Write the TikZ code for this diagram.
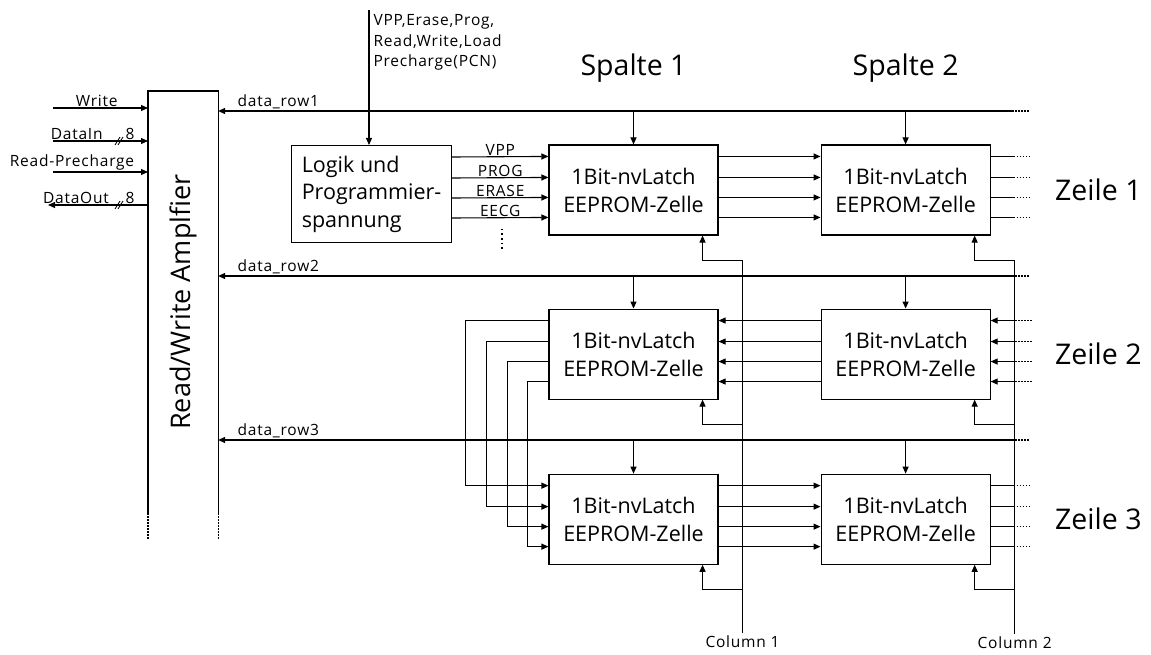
\documentclass[tikz,border=0pt]{standalone}
\usepackage{fontspec}
\setmainfont{Open Sans}
\newfontfamily\sigfont[LetterSpace=5]{Open Sans}
\usetikzlibrary{positioning, arrows.meta, calc}

\begin{document}
\begin{tikzpicture}[
    x=1pt, y=-1pt,
    >={Triangle[length=7pt,width=6pt]},
    line width=1.1pt,
    cell/.style ={draw, minimum width=169pt, minimum height=90pt, align=center, inner sep=0pt,
                  font=\fontsize{21.5}{28}\selectfont},
    logic/.style={draw, minimum width=160pt, minimum height=97pt, align=left, inner sep=0pt,
                  font=\fontsize{21.5}{27.5}\selectfont},
    sig/.style  ={font=\sigfont\fontsize{15.5}{20.5}\selectfont, inner sep=1pt},
    big/.style  ={font=\fontsize{28.5}{32}\selectfont, inner sep=0pt},
    arr/.style  ={->},
    cont/.style ={dash pattern=on 1.5pt off 1.5pt},
]
\useasboundingbox (0,0) rectangle (1151,655);

% ---- Cell matrix ----
\node[cell] (c11) at (633.5,190) {1Bit-nvLatch\\EEPROM-Zelle};
\node[cell, right=102pt of c11] (c12) {1Bit-nvLatch\\EEPROM-Zelle};
\node[cell, below=73pt of c11]  (c21) {1Bit-nvLatch\\EEPROM-Zelle};
\node[cell, right=102pt of c21] (c22) {1Bit-nvLatch\\EEPROM-Zelle};
\node[cell, below=74pt of c21]  (c31) {1Bit-nvLatch\\EEPROM-Zelle};
\node[cell, right=102pt of c31] (c32) {1Bit-nvLatch\\EEPROM-Zelle};

\node[big, above=62pt of c11] (sp1) {Spalte 1};
\node[big, above=62pt of c12] (sp2) {Spalte 2};
\node[big, right=64pt of c12] (ze1) {Zeile 1};
\node[big, right=64pt of c22] (ze2) {Zeile 2};
\node[big, right=64pt of c32] (ze3) {Zeile 3};

% ---- Logic block ----
\node[logic, anchor=north west] (logik) at (291,145) {Logik und\\Programmier-\\spannung};
\coordinate (ctl) at (369,10);
\draw[arr] (ctl) -- (ctl |- logik.north);
\node[sig, anchor=north west, align=left] (ctltxt) at ([xshift=3pt,yshift=-3pt]ctl) {VPP,Erase,Prog,\\Read,Write,Load\\Precharge(PCN)};

% ---- Read/Write amplifier ----
\node[minimum width=69pt, minimum height=421pt, anchor=north west, inner sep=0pt] (amp) at (148,91) {};
\draw (amp.south west) -- (amp.north west) -- (amp.north east) -- (amp.south east);
\draw[cont] (amp.south west) -- ++(0,26);
\draw[cont] (amp.south east) -- ++(0,26);
\node[big, rotate=90, font=\fontsize{27}{30}\selectfont] (amplbl) at (amp.center) {Read/Write Amplfier};

% ---- External amplifier signals ----
\coordinate (inW) at (53,108);
\coordinate (inD) at (53,141);
\coordinate (inR) at (53,172);
\coordinate (outD) at (48,205);
\draw[arr] (inW) -- (inW -| amp.west) node[sig, pos=.46, above] {Write};
\draw[arr] (inD) -- (inD -| amp.west) node[sig, pos=.25, above] {DataIn};
\draw[arr] (inR) -- (inR -| amp.west) node[sig, pos=.2, above] {Read-Precharge};
\draw[arr] (outD -| amp.west) -- (outD) node[sig, pos=.72, above] {DataOut};
\foreach \b in {inD, outD} {
  \coordinate (bus) at (\b -| 120,0);
  \draw[line width=0.8pt] ([xshift=-5pt,yshift=-4pt]bus) -- ++(5,-8);
  \draw[line width=0.8pt] ([xshift=-2pt,yshift=-4pt]bus) -- ++(5,-8);
  \node[sig, anchor=south west, inner sep=0pt] at ([xshift=5pt,yshift=1pt]bus) {8};
}

% ---- Logic outputs and row 1 ----
\foreach \dy/\s in {12/VPP, 33/PROG, 53/ERASE, 73/EECG} {
  \draw[arr] ([yshift=-\dy pt]logik.north east) -- ([yshift=-\dy pt]c11.north west)
    node[sig, midway, above, inner sep=0.5pt] {\s};
  \draw[arr] ([yshift=-\dy pt]c11.north east) -- ([yshift=-\dy pt]c12.north west);
  \draw ([yshift=-\dy pt]c12.north east) -- ([xshift=23pt,yshift=-\dy pt]c12.north east);
  \draw[cont] ([xshift=23pt,yshift=-\dy pt]c12.north east) -- ([xshift=41pt,yshift=-\dy pt]c12.north east);
}
\coordinate (vdots) at (502,229);
\draw[dash pattern=on 1.5pt off 3pt] (vdots) -- ++(0,21);

% ---- Row 2 (right to left) and feed into row 3 ----
\foreach \dy/\dx in {12/83, 33/62, 53/41, 73/21} {
  \draw[cont] ([xshift=41pt,yshift=-\dy pt]c22.north east) -- ([xshift=23pt,yshift=-\dy pt]c22.north east);
  \draw[arr] ([xshift=23pt,yshift=-\dy pt]c22.north east) -- ([yshift=-\dy pt]c22.north east);
  \draw[arr] ([yshift=-\dy pt]c22.north west) -- ([yshift=-\dy pt]c21.north east);
  \draw[arr] ([yshift=-\dy pt]c21.north west) -- ++(-\dx,0) |- ([yshift=-\dy pt]c31.north west);
}

% ---- Row 3 ----
\foreach \dy in {12,33,53,73} {
  \draw[arr] ([yshift=-\dy pt]c31.north east) -- ([yshift=-\dy pt]c32.north west);
  \draw ([yshift=-\dy pt]c32.north east) -- ([xshift=23pt,yshift=-\dy pt]c32.north east);
  \draw[cont] ([xshift=23pt,yshift=-\dy pt]c32.north east) -- ([xshift=41pt,yshift=-\dy pt]c32.north east);
}

% ---- Data rows ----
\foreach \r/\yy in {1/111, 2/276, 3/440} {
  \coordinate (dr\r) at (1012,\yy);
  \draw[arr] (dr\r) -- (dr\r -| amp.east) node[sig, anchor=south west, xshift=17pt, inner sep=2pt] {data\_row\r};
  \draw[cont] (dr\r) -- ++(18,0);
  \draw[arr] (c\r1.north |- dr\r) -- (c\r1.north);
  \draw[arr] (c\r2.north |- dr\r) -- (c\r2.north);
}

% ---- Columns ----
\coordinate (col1) at ($(c11.south east)+(24,25)$);
\coordinate (col2) at ($(c12.south east)+(24,25)$);
\draw (col1) -- ++(0,372) node[sig, below=2pt] {Column 1};
\draw (col2) -- ++(0,373) node[sig, below=2pt] {Column 2};
\foreach \r in {1,2,3} {
  \draw[arr] ($(c\r1.south east)+(24,25)$) -| ([xshift=-16pt]c\r1.south east);
  \draw[arr] ($(c\r2.south east)+(24,25)$) -| ([xshift=-16pt]c\r2.south east);
}

\end{tikzpicture}
\end{document}
